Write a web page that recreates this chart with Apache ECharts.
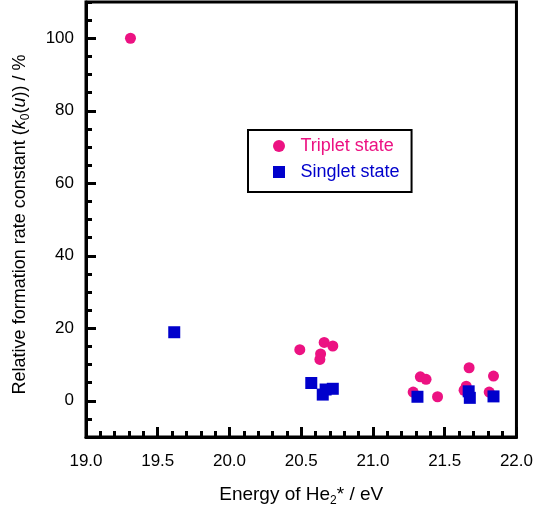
<!DOCTYPE html>
<html>
<head>
<meta charset="utf-8">
<script src="https://cdn.jsdelivr.net/npm/echarts@6/dist/echarts.min.js"></script>
<style>
  html, body { margin: 0; padding: 0; background: #fff; }
  #chart { width: 536px; height: 513px; }
</style>
</head>
<body>
<div id="chart"></div>
<script>
// energies (eV) and relative rate constants (%)
var tripletEnergy = [19.31, 20.49, 20.66, 20.72, 20.635, 20.63, 21.28, 21.33, 21.37, 21.45, 21.67, 21.65, 21.635, 21.84, 21.81];
var tripletValue = [100, 14.1, 16.1, 15.1, 12.9, 11.4, 2.4, 6.6, 5.9, 1.1, 9.1, 4.0, 2.9, 6.8, 2.4];
var singletEnergy = [19.615, 20.57, 20.65, 20.72, 20.67, 21.31, 21.667, 21.675, 21.84];
var singletValue = [18.9, 4.9, 1.7, 3.3, 3.1, 1.1, 2.6, 0.8, 1.2];
var yLabelValues = [0, 20, 40, 60, 80, 100];

var pink = '#EC1282';
var blue = '#0000CC';
var fontFamily = 'Liberation Sans, Arial, sans-serif';

function pairs(xs, ys) {
  return xs.map(function (x, i) { return [x, ys[i]]; });
}

var chart = echarts.init(document.getElementById('chart'));
chart.setOption({
  animation: false,
  textStyle: { fontFamily: fontFamily },
  grid: {
    left: 84, right: 18, top: 2, bottom: 76,
    show: true,
    borderColor: '#000',
    borderWidth: 3
  },
  legend: {
    orient: 'vertical',
    left: 248,
    top: 130,
    padding: [7, 12, 11, 25],
    itemGap: 8,
    itemWidth: 33,
    itemHeight: 12,
    borderColor: '#000',
    borderWidth: 2,
    textStyle: { fontSize: 18, lineHeight: 18, fontFamily: fontFamily },
    data: [
      { name: 'Triplet state', icon: 'circle', textStyle: { color: pink } },
      { name: 'Singlet state', icon: 'path://M0,0h10v10h-10z', textStyle: { color: blue } }
    ]
  },
  xAxis: {
    type: 'value',
    min: 19, max: 22, interval: 0.5,
    name: 'Energy of He{sub|2}* / eV',
    nameLocation: 'middle',
    nameGap: 46,
    nameTextStyle: {
      fontSize: 19, color: '#000', lineHeight: 24,
      rich: { sub: { fontSize: 12, verticalAlign: 'bottom', lineHeight: 12, color: '#000' } }
    },
    axisLine: { onZero: false, lineStyle: { color: '#000', width: 3 } },
    axisTick: { inside: true, length: 10, lineStyle: { color: '#000', width: 3 } },
    minorTick: { show: true, splitNumber: 5, length: 6, lineStyle: { color: '#000', width: 3 } },
    axisLabel: {
      fontSize: 17, color: '#000', margin: 16,
      formatter: function (v) { return v.toFixed(1); }
    },
    splitLine: { show: false }
  },
  yAxis: [{
    type: 'value',
    min: -10, max: 110, interval: 5,
    name: 'Relative formation rate constant ({it|k}{sub|0}({it|u})) / %',
    nameLocation: 'middle',
    nameGap: 54,
    nameTextStyle: {
      fontSize: 18, color: '#000', lineHeight: 24,
      padding: [0, 10, 0, 0],
      rich: {
        it: { fontSize: 18, fontStyle: 'italic', color: '#000' },
        sub: { fontSize: 12, verticalAlign: 'bottom', lineHeight: 12, color: '#000' }
      }
    },
    axisLine: { onZero: false, lineStyle: { color: '#000', width: 3 } },
    axisTick: { inside: true, length: 6, lineStyle: { color: '#000', width: 3 } },
    axisLabel: { fontSize: 17, color: '#000', margin: 12, customValues: yLabelValues },
    splitLine: { show: false }
  }, {
    // longer ticks at the labelled values
    type: 'value',
    position: 'left',
    min: -10, max: 110,
    axisLine: { show: false, onZero: false },
    axisTick: { inside: true, length: 10, customValues: yLabelValues, lineStyle: { color: '#000', width: 3 } },
    axisLabel: { show: false },
    splitLine: { show: false }
  }],
  series: [{
    name: 'Triplet state',
    type: 'scatter',
    symbol: 'circle',
    symbolSize: 11,
    itemStyle: { color: pink, opacity: 1 },
    data: pairs(tripletEnergy, tripletValue)
  }, {
    name: 'Singlet state',
    type: 'scatter',
    symbol: 'rect',
    symbolSize: 12,
    itemStyle: { color: blue, opacity: 1 },
    data: pairs(singletEnergy, singletValue)
  }]
});
</script>
</body>
</html>
